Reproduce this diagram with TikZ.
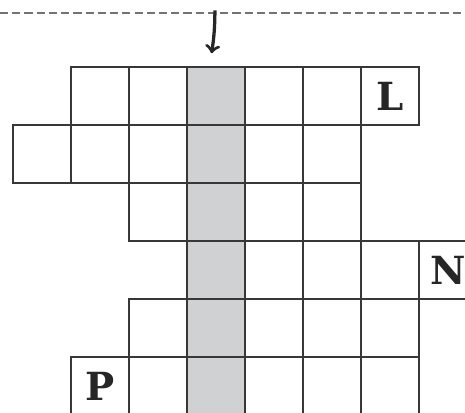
\documentclass[tikz,border=0pt]{standalone}
\usepackage{fontspec}
\newfontfamily\slabfont{DejaVu Serif}
\usetikzlibrary{arrows,shapes,positioning}
\definecolor{colgray}{RGB}{208,209,211}
\definecolor{gridline}{RGB}{55,55,55}

\begin{document}
\begin{tikzpicture}
			[cell/.style={draw=gridline, line width=1.05pt, minimum size=1cm, inner sep=0pt, anchor=south west},
			 letter/.style={font=\slabfont\bfseries\fontsize{19}{19}\selectfont, text=black!85},
			 rule/.style={draw=black!55, line width=1pt, dash pattern=on 4pt off 2pt}]
			\useasboundingbox (-0.2,-5.926) rectangle (7.816,1.178);
			\clip (-0.2,-5.926) rectangle (7.816,1.178);

			% shaded column
			\fill[colgray] (3,0) rectangle (4,-6.2);

			% cells, row by row: row/first column/last column
			\foreach \r/\a/\b in {1/1/6, 2/0/5, 3/2/5, 4/3/7, 5/2/6, 6/1/6}
				\foreach \c in {\a,...,\b}
					\node[cell] (c\r-\c) at (\c,-\r) {};

			\node[letter] (L) at (c1-6.center) {L};
			\node[letter] (N) at (c4-7.center) {N};
			\node[letter] (P) at (c6-1.center) {P};

			% dashed line and the arrow
			\coordinate (left) at (-0.2,0.948);
			\coordinate (right) at (7.816,0.948);
			\draw[rule] (left) -- (right);
			\coordinate (top) at (3.505,1.0);
			\coordinate (tip) at (3.448,0.26);
			\draw[->, line width=1.6pt, black!85] (top) to [bend left=4] (tip);
\end{tikzpicture}
\end{document}
